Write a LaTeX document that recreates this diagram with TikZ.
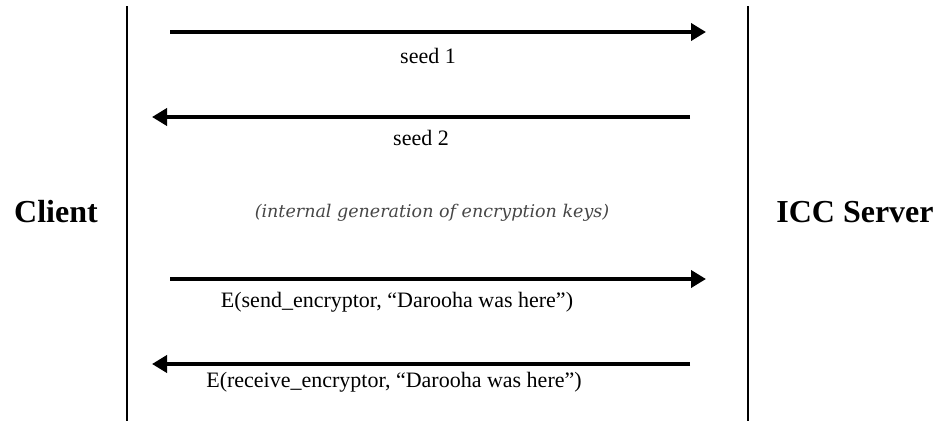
\documentclass[tikz,border=0pt]{standalone}
\usepackage{fontspec}
\setmainfont{Liberation Serif}
\newfontfamily\notefont{DejaVu Serif}
\usetikzlibrary{arrows.meta}
\definecolor{notegray}{RGB}{70,70,70}
\tikzset{
  lifeline/.style={line width=1.3pt, black},
  msg/.style={line width=3.8pt, black, -{Triangle[length=15pt,width=17pt]}},
  party/.style={font=\fontsize{32}{36}\selectfont\bfseries, inner sep=0pt},
  msglabel/.style={font=\fontsize{22}{25}\selectfont, inner sep=0pt},
  note/.style={font=\notefont\itshape\fontsize{17.5}{20}\selectfont, text=notegray, inner sep=0pt}
}
\begin{document}
\begin{tikzpicture}[x=1pt,y=-1pt]
\useasboundingbox (0,0) rectangle (943,423);
% lifelines
\coordinate (ltop) at (127,6);
\coordinate (lbot) at (127,421);
\coordinate (rtop) at (748,6);
\coordinate (rbot) at (748,421);
\draw[lifeline] (ltop) -- (lbot);
\draw[lifeline] (rtop) -- (rbot);
% parties
\node[party] (client) at (56,212) {Client};
\node[party] (server) at (855,212) {ICC Server};
% message endpoints
\coordinate (a1s) at (170,32);  \coordinate (a1e) at (706,32);
\coordinate (a2s) at (690,117); \coordinate (a2e) at (152,117);
\coordinate (a3s) at (170,279); \coordinate (a3e) at (706,279);
\coordinate (a4s) at (690,364); \coordinate (a4e) at (152,364);
\draw[msg] (a1s) -- (a1e);
\draw[msg] (a2s) -- (a2e);
\draw[msg] (a3s) -- (a3e);
\draw[msg] (a4s) -- (a4e);
% labels
\node[msglabel] (l1) at (428,56) {seed 1};
\node[msglabel] (l2) at (421,138) {seed 2};
\node[note] (n1) at (432,213) {(internal generation of encryption keys)};
\node[msglabel] (l3) at (397,302) {E(send\_encryptor, “Darooha was here”)};
\node[msglabel] (l4) at (394,382) {E(receive\_encryptor, “Darooha was here”)};
\end{tikzpicture}
\end{document}
